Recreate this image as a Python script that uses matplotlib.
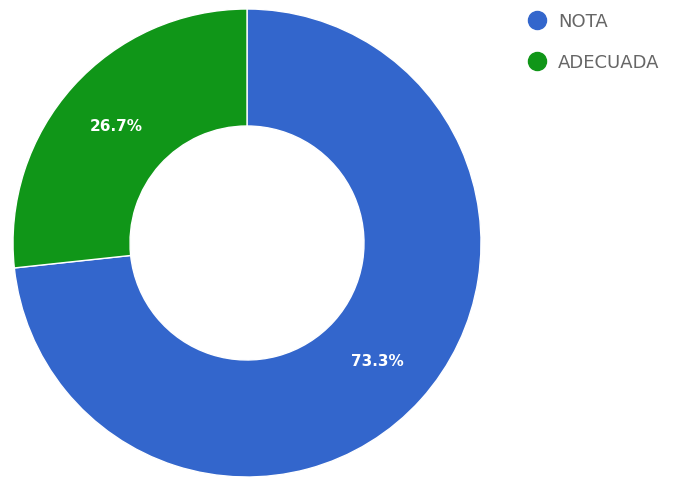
import matplotlib.pyplot as plt
from matplotlib.lines import Line2D

# Data
labels = ['NOTA', 'ADECUADA']
values = [73.3, 26.7]
colors = ['#3366CC', '#109618']

fig = plt.figure(figsize=(6.93, 4.85), dpi=100)
ax = fig.add_axes([13 / 693, 7 / 485, 468 / 693, 468 / 485])

wedges, texts, autotexts = ax.pie(
    values, colors=colors, startangle=90, counterclock=False,
    autopct='%1.1f%%', pctdistance=0.75,
    wedgeprops=dict(width=0.5, edgecolor='white', linewidth=1),
    textprops=dict(color='white', fontsize=11, fontweight='bold'))
ax.set_xlim(-1, 1)
ax.set_ylim(-1, 1)
ax.set_aspect('equal')

# Legend in the top right
handles = [Line2D([0], [0], marker='o', linestyle='', markersize=13,
                  markerfacecolor=c, markeredgecolor=c) for c in colors]
fig.legend(handles, labels, loc='upper left', bbox_to_anchor=(515 / 693, 0.995),
           frameon=False, fontsize=13, labelcolor='#666666',
           handletextpad=0.6, labelspacing=1.25, borderaxespad=0.2,
           handlelength=1.2)

fig.savefig('out.png', dpi=100)
